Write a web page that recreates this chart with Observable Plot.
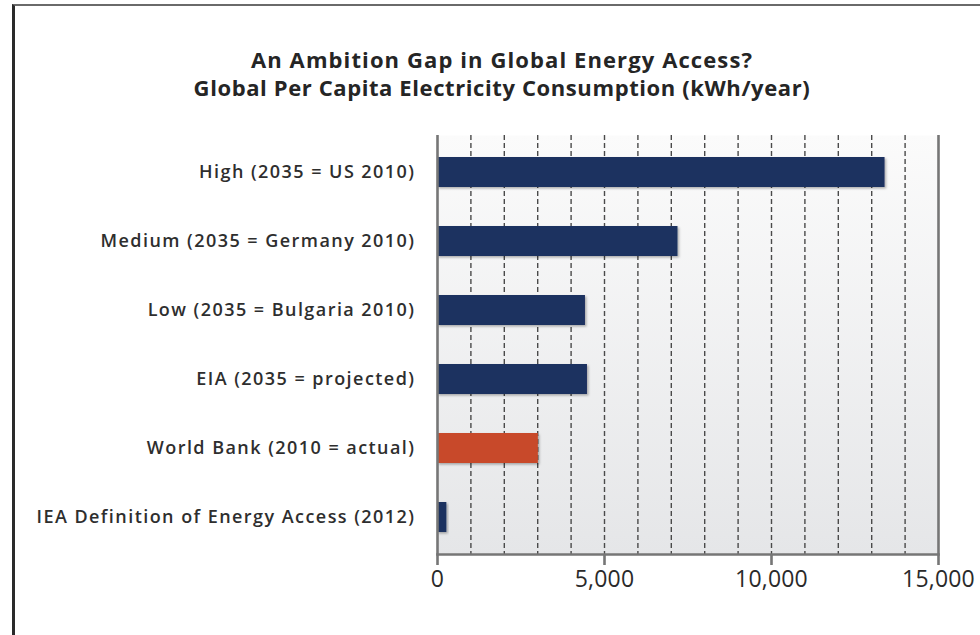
<!DOCTYPE html>
<html>
<head>
<meta charset="utf-8">
<script src="https://cdn.jsdelivr.net/npm/d3@7"></script>
<script src="https://cdn.jsdelivr.net/npm/@observablehq/plot@0.6"></script>
<style>
  html, body { margin: 0; padding: 0; background: #fff; overflow: hidden; width: 980px; height: 635px; }
  #wrap { position: relative; width: 980px; height: 635px; }
  #border { position: absolute; left: 12px; top: 4px; width: 980px; height: 640px;
            border-top: 2px solid #6a6a6a; border-left: 3px solid #2a2a2a; box-sizing: border-box; }
  .title { position: absolute; left: 0; width: 1004px; text-align: center;
           font-family: "Open Sans", sans-serif; font-weight: 700; color: #252525;
           font-size: 22px; line-height: 26px; white-space: nowrap; }
  #t1 { top: 46px; letter-spacing: 1.1px; }
  #t2 { top: 74px; letter-spacing: 0.6px; }
  #chart { position: absolute; left: 0; top: 0; }
</style>
</head>
<body>
<div id="wrap">
  <div id="border"></div>
  <div id="chart"></div>
  <div class="title" id="t1">An Ambition Gap in Global Energy Access?</div>
  <div class="title" id="t2">Global Per Capita Electricity Consumption (kWh/year)</div>
</div>
<script>
const categories = [
  "High (2035 = US 2010)",
  "Medium (2035 = Germany 2010)",
  "Low (2035 = Bulgaria 2010)",
  "EIA (2035 = projected)",
  "World Bank (2010 = actual)",
  "IEA Definition of Energy Access (2012)"
];
const values = [13400, 7200, 4430, 4490, 3020, 280];
const barColors = ["#1c3160", "#1c3160", "#1c3160", "#1c3160", "#c8492a", "#1c3160"];
const xTicks = [0, 5000, 10000, 15000];
const gridValues = [1000, 2000, 3000, 4000, 5000, 6000, 7000, 8000, 9000, 10000, 11000, 12000, 13000, 14000];
const axisEnds = [0, 15000];

const data = categories.map((c, i) => ({category: c, value: values[i], color: barColors[i]}));

const plot = Plot.plot({
  width: 980,
  height: 635,
  marginLeft: 437,
  marginRight: 42,
  marginTop: 135,
  marginBottom: 81,
  style: {background: "transparent", overflow: "visible"},
  x: {domain: [0, 15000]},
  y: {domain: categories, paddingInner: 0.57, paddingOuter: 0.285},
  marks: [
    Plot.frame({fill: "url(#bggrad)", stroke: null}),
    Plot.ruleX(gridValues, {stroke: "#4a4a4a", strokeWidth: 1.4, strokeDasharray: "5,3"}),
    Plot.barX(data, {x: "value", y: "category", fill: "color", className: "bars"}),
    Plot.ruleX(axisEnds, {stroke: "#767676", strokeWidth: 2.6}),
    Plot.frame({anchor: "bottom", stroke: "#767676", strokeWidth: 2.6}),
    Plot.axisX({
      ticks: xTicks, tickFormat: d3.format(","), tickSize: 11, tickPadding: 5,
      stroke: "#767676", strokeWidth: 2.6, label: null,
      fontSize: 23, fontFamily: "Open Sans", fill: "#2a2a2a", className: "xax"
    }),
    Plot.axisY({
      tickSize: 0, tickPadding: 22, label: null,
      fontSize: 18, fontFamily: "Open Sans", fontWeight: 600, fill: "#2e2e2e",
      className: "yax"
    })
  ]
});

const svg = d3.select(plot);
const defs = svg.insert("defs", ":first-child");
const grad = defs.append("linearGradient").attr("id", "bggrad")
  .attr("x1", 0).attr("y1", 0).attr("x2", 0).attr("y2", 1);
grad.append("stop").attr("offset", "0%").attr("stop-color", "#fbfbfb");
grad.append("stop").attr("offset", "100%").attr("stop-color", "#e5e6e8");
const f = defs.append("filter").attr("id", "shadow")
  .attr("x", "-10%").attr("y", "-20%").attr("width", "130%").attr("height", "160%");
f.append("feDropShadow").attr("dx", 1.5).attr("dy", 1.5).attr("stdDeviation", 1.2)
  .attr("flood-color", "#000").attr("flood-opacity", 0.3);
svg.selectAll(".bars rect, g.bars rect").attr("filter", "url(#shadow)");
svg.selectAll(".yax text").style("letter-spacing", "1.45px");
svg.selectAll(".xax text").style("letter-spacing", "0.2px");

document.getElementById("chart").appendChild(plot);
</script>
</body>
</html>
